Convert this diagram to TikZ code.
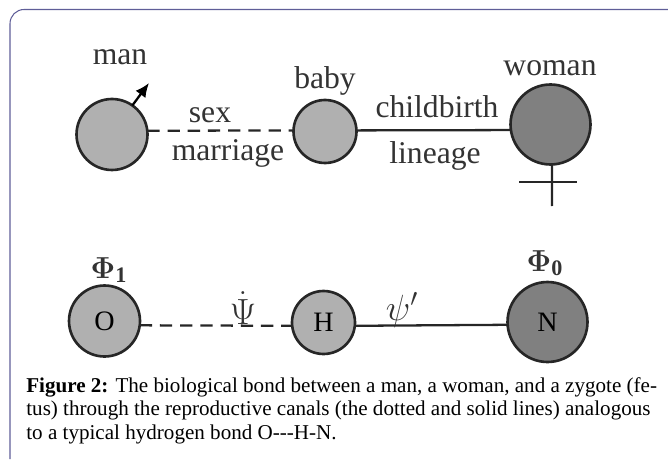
\documentclass[tikz,border=0pt]{standalone}
\usepackage{fontspec}
\setmainfont{Liberation Serif}
\usepackage{amsmath,amssymb}
\usetikzlibrary{arrows.meta}
\definecolor{frameBlue}{HTML}{5F5E98}
\definecolor{lightGrey}{HTML}{B0B0B0}
\definecolor{darkGrey}{HTML}{808080}
\begin{document}
\begin{tikzpicture}
[x=0.02cm,y=-0.02cm,
vertex/.style={circle,inner sep=0pt,outer sep=0pt,draw=black!85,line width=1.5pt,fill=lightGrey,font=\fontsize{16}{18}\selectfont},
smallVertex/.style={minimum size=1.26cm},
midVertex/.style={minimum size=1.42cm},
bigVertex/.style={minimum size=1.6cm,fill=darkGrey},
edge/.style={line width=1.3pt,draw=black!85},
dashEdge/.style={dash pattern=on 7pt off 4.5pt},
end/.style={-{Latex[length=8pt,width=7pt]},line width=1.3pt},
bodyLabel/.style={inner sep=0pt,text=black!80,font=\fontsize{18}{20}\selectfont},
psiLabel/.style={bodyLabel,font=\fontsize{22}{24}\selectfont},
captionLabel/.style={inner sep=0pt,anchor=north west,align=left,font=\fontsize{12}{13.4}\selectfont},
frameLine/.style={frameBlue,line width=0.6pt,rounded corners=8pt},
]
\useasboundingbox (0,0) rectangle (668,459);
\draw[frameLine] (10,459) -- (10,9.5) -- (668,9.5);
\node[vertex,midVertex,] (man) at (112,134.5) {};
\node[vertex,smallVertex,] (baby) at (325,131.5) {};
\node[vertex,bigVertex,] (woman) at (550.5,124.5) {};
\node[vertex,midVertex,] (O) at (104.5,321) {O};
\node[vertex,smallVertex,] (H) at (323.5,322.5) {H};
\node[vertex,bigVertex,] (N) at (547.5,322) {N};
\coordinate (arrowEnd) at (149,83);
\coordinate (crossEnd) at (552,206);
\coordinate (crossLeft) at (519,181.7);
\coordinate (crossRight) at (577,181.7);
\draw[edge,dashEdge,](man.6) -- (baby.178) ;
\draw[edge,](baby.2) -- (woman.188) ;
\draw[edge,dashEdge,](O.-7) -- (H.186) ;
\draw[edge,](H.-6) -- (N.184) ;
\draw[end,](man.55) -- (arrowEnd) ;
\draw[edge,](woman.-88) -- (crossEnd) ;
\draw[edge,](crossLeft) -- (crossRight) ;
\node[bodyLabel,] (manLabel) at (120,57) {man};
\node[bodyLabel,] (babyLabel) at (325,81) {baby};
\node[bodyLabel,] (womanLabel) at (550,68) {woman};
\node[bodyLabel,] (sexLabel) at (210,115) {sex};
\node[bodyLabel,] (marriageLabel) at (228,153) {marriage};
\node[bodyLabel,] (childbirthLabel) at (437,107) {childbirth};
\node[bodyLabel,] (lineageLabel) at (435,156) {lineage};
\node[bodyLabel,] (phiOne) at (109,270) {$\boldsymbol{\Phi}_{\mathbf{1}}$};
\node[psiLabel,] (psiDot) at (243,308) {$\dot{\Psi}$};
\node[psiLabel,] (psiPrime) at (402,310) {$\psi'$};
\node[bodyLabel,] (phiZero) at (545,263) {$\boldsymbol{\Phi}_{\mathbf{0}}$};
\node[captionLabel,] (caption) at (26,377) {\textbf{Figure 2:} The biological bond between a man, a woman, and a zygote (fe-\\tus) through the reproductive canals (the dotted and solid lines) analogous\\to a typical hydrogen bond O{-}{-}{-}H-N.};
\end{tikzpicture}
\end{document}
